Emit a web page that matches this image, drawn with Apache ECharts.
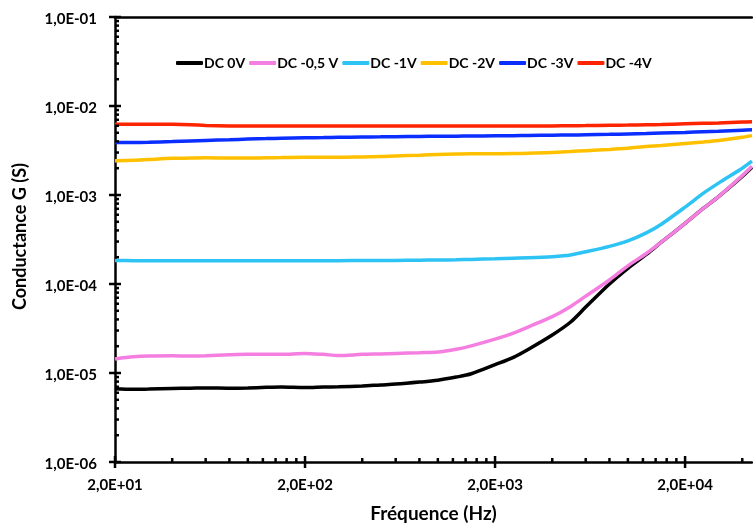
<!DOCTYPE html>
<html>
<head>
<meta charset="utf-8">
<script src="https://cdn.jsdelivr.net/npm/echarts@6/dist/echarts.min.js"></script>
<style>
html,body{margin:0;padding:0;background:#fff;}
#chart{width:753px;height:526px;}
</style>
</head>
<body>
<div id="chart"></div>
<script>
// ---- Data ----
const seriesNames = ['DC 0V', 'DC -0,5 V', 'DC -1V', 'DC -2V', 'DC -3V', 'DC -4V'];
const seriesColors = ['#000000', '#f57fe0', '#2ec3f5', '#ffc000', '#0a2eff', '#ff2400'];

const freq = [20, 25, 30, 40, 50, 60, 80, 100, 125, 150, 200, 250, 300, 400, 500, 600, 800, 1000, 1250, 1500,
  2000, 2500, 3000, 4000, 5000, 6000, 8000, 10000, 12500, 15000, 20000, 25000, 30000, 40000, 45000];

const g0V = [6.65e-6, 6.55e-6, 6.6e-6, 6.7e-6, 6.75e-6, 6.8e-6, 6.75e-6, 6.8e-6, 6.9e-6, 6.95e-6,
  6.85e-6, 6.95e-6, 7.0e-6, 7.15e-6, 7.35e-6, 7.5e-6, 7.9e-6, 8.3e-6, 9.0e-6, 9.8e-6,
  1.24e-5, 1.5e-5, 1.85e-5, 2.67e-5, 3.74e-5, 5.5e-5, 1.0e-4, 1.5e-4, 2.15e-4, 2.95e-4,
  4.8e-4, 7.1e-4, 9.6e-4, 1.62e-3, 2.05e-3];

const g05V = [1.44e-5, 1.52e-5, 1.55e-5, 1.56e-5, 1.55e-5, 1.56e-5, 1.6e-5, 1.62e-5, 1.62e-5, 1.62e-5,
  1.66e-5, 1.62e-5, 1.57e-5, 1.62e-5, 1.64e-5, 1.66e-5, 1.69e-5, 1.72e-5, 1.85e-5, 2.02e-5,
  2.4e-5, 2.8e-5, 3.3e-5, 4.3e-5, 5.6e-5, 7.3e-5, 1.11e-4, 1.6e-4, 2.2e-4, 2.95e-4,
  4.8e-4, 7.1e-4, 9.6e-4, 1.65e-3, 2.1e-3];

const g1V = [1.84e-4, 1.83e-4, 1.82e-4, 1.82e-4, 1.83e-4, 1.83e-4, 1.83e-4, 1.83e-4, 1.83e-4, 1.83e-4,
  1.83e-4, 1.83e-4, 1.83e-4, 1.84e-4, 1.84e-4, 1.84e-4, 1.85e-4, 1.86e-4, 1.87e-4, 1.89e-4,
  1.92e-4, 1.95e-4, 1.97e-4, 2.03e-4, 2.12e-4, 2.3e-4, 2.65e-4, 3.05e-4, 3.75e-4, 4.7e-4,
  7.3e-4, 1.05e-3, 1.36e-3, 2.0e-3, 2.4e-3];

const g2V = [2.43e-3, 2.45e-3, 2.5e-3, 2.58e-3, 2.6e-3, 2.62e-3, 2.6e-3, 2.6e-3, 2.62e-3, 2.63e-3,
  2.65e-3, 2.65e-3, 2.65e-3, 2.68e-3, 2.7e-3, 2.75e-3, 2.8e-3, 2.85e-3, 2.88e-3, 2.9e-3,
  2.9e-3, 2.92e-3, 2.95e-3, 3.0e-3, 3.08e-3, 3.15e-3, 3.25e-3, 3.35e-3, 3.5e-3, 3.6e-3,
  3.8e-3, 3.95e-3, 4.1e-3, 4.45e-3, 4.65e-3];

const g3V = [3.9e-3, 3.9e-3, 3.92e-3, 3.98e-3, 4.05e-3, 4.1e-3, 4.18e-3, 4.25e-3, 4.3e-3, 4.35e-3,
  4.4e-3, 4.42e-3, 4.45e-3, 4.48e-3, 4.5e-3, 4.52e-3, 4.55e-3, 4.57e-3, 4.58e-3, 4.6e-3,
  4.62e-3, 4.64e-3, 4.66e-3, 4.7e-3, 4.72e-3, 4.75e-3, 4.8e-3, 4.85e-3, 4.9e-3, 4.97e-3,
  5.05e-3, 5.15e-3, 5.22e-3, 5.35e-3, 5.4e-3];

const g4V = [6.25e-3, 6.25e-3, 6.25e-3, 6.22e-3, 6.15e-3, 6.05e-3, 5.97e-3, 5.95e-3, 5.95e-3, 5.95e-3,
  5.95e-3, 5.95e-3, 5.95e-3, 5.95e-3, 5.95e-3, 5.95e-3, 5.95e-3, 5.95e-3, 5.95e-3, 5.95e-3,
  5.95e-3, 5.95e-3, 5.95e-3, 5.97e-3, 6.0e-3, 6.02e-3, 6.07e-3, 6.1e-3, 6.15e-3, 6.2e-3,
  6.3e-3, 6.38e-3, 6.45e-3, 6.6e-3, 6.65e-3];

const allSeries = [g0V, g05V, g1V, g2V, g3V, g4V];

// Axis ticks and labels
const xMin = 20, xMax = 45000;
const yMin = 1e-6, yMax = 1e-1;
const xMajorTicks = [20, 200, 2000, 20000];
const xTickLabels = ['2,0E+01', '2,0E+02', '2,0E+03', '2,0E+04'];
const xMinorTicks = [40, 60, 80, 100, 120, 140, 160, 180,
  400, 600, 800, 1000, 1200, 1400, 1600, 1800,
  4000, 6000, 8000, 10000, 12000, 14000, 16000, 18000, 40000];
const yMajorTicks = [1e-6, 1e-5, 1e-4, 1e-3, 1e-2, 1e-1];
const yTickLabels = ['1,0E-06', '1,0E-05', '1,0E-04', '1,0E-03', '1,0E-02', '1,0E-01'];
const yMinorTicks = [];
[1e-6, 1e-5, 1e-4, 1e-3, 1e-2].forEach(d => { for (let k = 2; k <= 9; k++) yMinorTicks.push(+(k * d).toPrecision(3)); });

// ---- Chart ----
const FONT = 'Lato, "Open Sans", sans-serif';
const chart = echarts.init(document.getElementById('chart'));

const lineSeries = seriesNames.map((name, i) => ({
  name: name,
  type: 'line',
  data: freq.map((f, j) => [f, allSeries[i][j]]),
  symbol: 'none',
  smooth: 0.3,
  lineStyle: { color: seriesColors[i], width: 3.5 },
  itemStyle: { color: seriesColors[i] },
  z: 2 + i
}));

function tickSeries(data, kind) {
  return {
    type: 'custom',
    coordinateSystem: 'cartesian2d',
    silent: true,
    clip: false,
    z: 20,
    data: data,
    renderItem: function (params, api) {
      const p = api.coord([api.value(0), api.value(1)]);
      const idx = params.dataIndex;
      const st = { stroke: '#000', lineWidth: 2.5 };
      if (kind === 'xMajor') {
        return { type: 'group', children: [
          { type: 'line', shape: { x1: p[0], y1: p[1] - 6, x2: p[0], y2: p[1] + 6 }, style: st },
          { type: 'text', x: p[0], y: p[1] + 23, style: { text: xTickLabels[idx], fill: '#000', font: 'bold 15px ' + FONT, align: 'center', verticalAlign: 'middle' } }
        ] };
      } else if (kind === 'xMinor') {
        return { type: 'line', shape: { x1: p[0], y1: p[1] - 4, x2: p[0], y2: p[1] }, style: st };
      } else if (kind === 'yMajor') {
        return { type: 'group', children: [
          { type: 'line', shape: { x1: p[0] - 6, y1: p[1], x2: p[0] + 6, y2: p[1] }, style: st },
          { type: 'text', x: p[0] - 18, y: p[1] + 2, style: { text: yTickLabels[idx], fill: '#000', font: 'bold 15px ' + FONT, align: 'right', verticalAlign: 'middle' } }
        ] };
      } else {
        return { type: 'line', shape: { x1: p[0], y1: p[1], x2: p[0] + 4, y2: p[1] }, style: st };
      }
    }
  };
}

const option = {
  animation: false,
  backgroundColor: '#ffffff',
  textStyle: { fontFamily: FONT },
  grid: { left: 115, right: 1, top: 17, bottom: 64, containLabel: false, outerBoundsMode: 'none' },
  legend: {
    data: seriesNames,
    left: 171,
    top: 51,
    icon: 'roundRect',
    itemWidth: 27,
    itemHeight: 4,
    itemGap: 4,
    textStyle: { fontFamily: FONT, fontWeight: 'bold', fontSize: 14, color: '#000', padding: [0, 0, 0, -4] }
  },
  xAxis: [{
    type: 'log',
    logBase: 10,
    min: xMin,
    max: xMax,
    name: 'Fréquence (Hz)',
    nameLocation: 'middle',
    nameGap: 42,
    nameTextStyle: { fontFamily: FONT, fontWeight: 'bold', fontSize: 19, color: '#000' },
    axisLine: { show: true, onZero: false, lineStyle: { color: '#000', width: 2.5 } },
    axisTick: { show: false },
    axisLabel: { show: false },
    splitLine: { show: false },
    minorTick: { show: false }
  }, {
    type: 'log',
    logBase: 10,
    min: xMin,
    max: xMax,
    position: 'top',
    axisLine: { show: true, onZero: false, lineStyle: { color: '#000', width: 2.5 } },
    axisTick: { show: false },
    axisLabel: { show: false },
    splitLine: { show: false }
  }],
  yAxis: {
    type: 'log',
    logBase: 10,
    min: yMin,
    max: yMax,
    name: 'Conductance G (S)',
    nameLocation: 'middle',
    nameGap: 86,
    nameRotate: 90,
    nameTextStyle: { fontFamily: FONT, fontWeight: 'bold', fontSize: 18, color: '#000', padding: [0, 0, 0, 6] },
    axisLine: { show: true, onZero: false, lineStyle: { color: '#000', width: 2.5 } },
    axisTick: { show: false },
    axisLabel: { show: false },
    splitLine: { show: false }
  },
  series: lineSeries.concat([
    tickSeries(xMajorTicks.map(v => [v, yMin]), 'xMajor'),
    tickSeries(xMinorTicks.map(v => [v, yMin]), 'xMinor'),
    tickSeries(yMajorTicks.map(v => [xMin, v]), 'yMajor'),
    tickSeries(yMinorTicks.map(v => [xMin, v]), 'yMinor')
  ])
};
chart.setOption(option);
</script>
</body>
</html>
